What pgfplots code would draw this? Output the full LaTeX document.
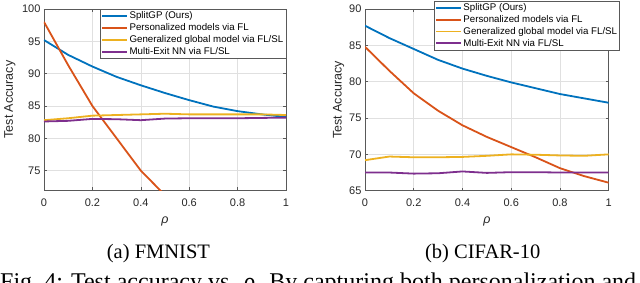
\documentclass[border=0pt]{standalone}
\usepackage{fontspec}
\setmainfont{Liberation Serif}
\newfontfamily\msans{Liberation Sans}
\usepackage{pgfplots}
\pgfplotsset{compat=1.18}
\definecolor{mblue}{rgb}{0,0.447,0.741}
\definecolor{morange}{rgb}{0.85,0.325,0.098}
\definecolor{myellow}{rgb}{0.929,0.694,0.125}
\definecolor{mpurple}{rgb}{0.494,0.184,0.556}
\definecolor{mtext}{rgb}{0.15,0.15,0.15}
\pgfplotsset{
  mstyle/.style={
    scale only axis,
    xmin=0,xmax=1,
    xtick={0,0.2,0.4,0.6,0.8,1},
    tick align=inside,
    major tick length=3pt,
    axis line style={draw=black!65, line width=0.6pt},
    grid=major,
    grid style={draw=black!12, line width=0.5pt},
    tick style={draw=black!65, line width=0.6pt},
    tick label style={font=\msans\fontsize{11}{13}\selectfont, text=mtext},
    /pgf/number format/assume math mode=true,
    xticklabel style={yshift=-5pt},
    xlabel={\itshape ρ},
    label style={font=\msans\fontsize{12.5}{14}\selectfont, text=mtext},
    ylabel={Test Accuracy},
    no markers,
    legend cell align=left,
    legend image code/.code={\draw[#1, line width=1.8pt] (0pt,0pt) -- (25pt,0pt);},
    legend style={draw=black!65, fill=white, inner xsep=1pt, inner ysep=1.2pt,
      font=\msans\fontsize{9.7}{11}\selectfont, text=black, row sep=0.3pt,
      nodes={inner sep=1.5pt, text depth=0.15em},
      /tikz/every odd column/.style={column sep=0pt}},
    every axis plot/.append style={line width=1.8pt},
  }
}
\begin{document}
\begin{tikzpicture}
\begin{axis}[mstyle, at={(44pt,92pt)}, anchor=south west, width=242pt, height=181pt,
  ymin=72, ymax=100, ytick={75,80,85,90,95,100},
  ylabel style={at={(axis description cs:-0.1405,0.5)}, anchor=center},
  xlabel style={at={(axis description cs:0.5,-0.175)}, anchor=center},
  legend style={at={(1,1)}, anchor=north east}]
\addplot[mblue] coordinates {(0,95.2) (0.1,92.9) (0.2,91.1) (0.3,89.5) (0.4,88.2) (0.5,87.0) (0.6,85.9) (0.7,84.9) (0.8,84.2) (0.9,83.7) (1,83.3)};
\addlegendentry{SplitGP (Ours)}
\addplot[morange] coordinates {(0,98.0) (0.1,91.3) (0.2,85.0) (0.3,80.0) (0.4,75.0) (0.5,71.2)};
\addlegendentry{Personalized models via FL}
\addplot[myellow] coordinates {(0,82.8) (0.1,83.1) (0.2,83.5) (0.3,83.6) (0.4,83.7) (0.5,83.8) (0.6,83.7) (0.7,83.7) (0.8,83.7) (0.9,83.7) (1,83.6)};
\addlegendentry{Generalized global model via FL/SL\hspace{1pt}}
\addplot[mpurple] coordinates {(0,82.6) (0.1,82.7) (0.2,83.0) (0.3,82.95) (0.4,82.8) (0.5,83.05) (0.6,83.1) (0.7,83.1) (0.8,83.1) (0.9,83.15) (1,83.2)};
\addlegendentry{Multi-Exit NN via FL/SL}
\end{axis}
\begin{axis}[mstyle, at={(365pt,91.3pt)}, anchor=south west, width=243.7pt, height=181.7pt,
  ymin=65, ymax=90, ytick={65,70,75,80,85,90},
  ylabel style={at={(axis description cs:-0.1087,0.5)}, anchor=center},
  xlabel style={at={(axis description cs:0.5,-0.168)}, anchor=center},
  legend style={at={(axis description cs:0.283,1.0457)}, anchor=north west}]
\addplot[mblue] coordinates {(0,87.7) (0.1,86.0) (0.2,84.5) (0.3,83.0) (0.4,81.8) (0.5,80.8) (0.6,79.9) (0.7,79.1) (0.8,78.3) (0.9,77.7) (1,77.1)};
\addlegendentry{SplitGP (Ours)}
\addplot[morange] coordinates {(0,84.8) (0.1,81.5) (0.2,78.4) (0.3,76.0) (0.4,74.0) (0.5,72.4) (0.6,71.0) (0.7,69.6) (0.8,68.1) (0.9,67.0) (1,66.1)};
\addlegendentry{Personalized models via FL}
\addplot[myellow] coordinates {(0,69.2) (0.1,69.7) (0.2,69.6) (0.3,69.6) (0.4,69.65) (0.5,69.8) (0.6,70.0) (0.7,69.95) (0.8,69.85) (0.9,69.8) (1,70.0)};
\addlegendentry{Generalized global model via FL/SL\hspace{22pt}}
\addplot[mpurple] coordinates {(0,67.5) (0.1,67.5) (0.2,67.35) (0.3,67.4) (0.4,67.65) (0.5,67.45) (0.6,67.55) (0.7,67.55) (0.8,67.5) (0.9,67.5) (1,67.5)};
\addlegendentry{Multi-Exit NN via FL/SL}
\end{axis}
\node[anchor=base, inner sep=0pt, font=\fontsize{20.5}{24}\selectfont] at (158.4pt,23.3pt) {(a) FMNIST};
\node[anchor=base, inner sep=0pt, font=\fontsize{20.5}{24}\selectfont] at (482.7pt,23.3pt) {(b) CIFAR-10};
\node[anchor=base west, inner sep=0pt, font=\fontsize{24}{28}\selectfont] at (0pt,-7pt) {\makebox[636pt][s]{Fig.~4: Test accuracy vs. \textit{ρ}. By capturing both personalization and}};
\pgfresetboundingbox
\path[use as bounding box] (0pt,0pt) rectangle (640pt,282pt);
\end{tikzpicture}
\end{document}
